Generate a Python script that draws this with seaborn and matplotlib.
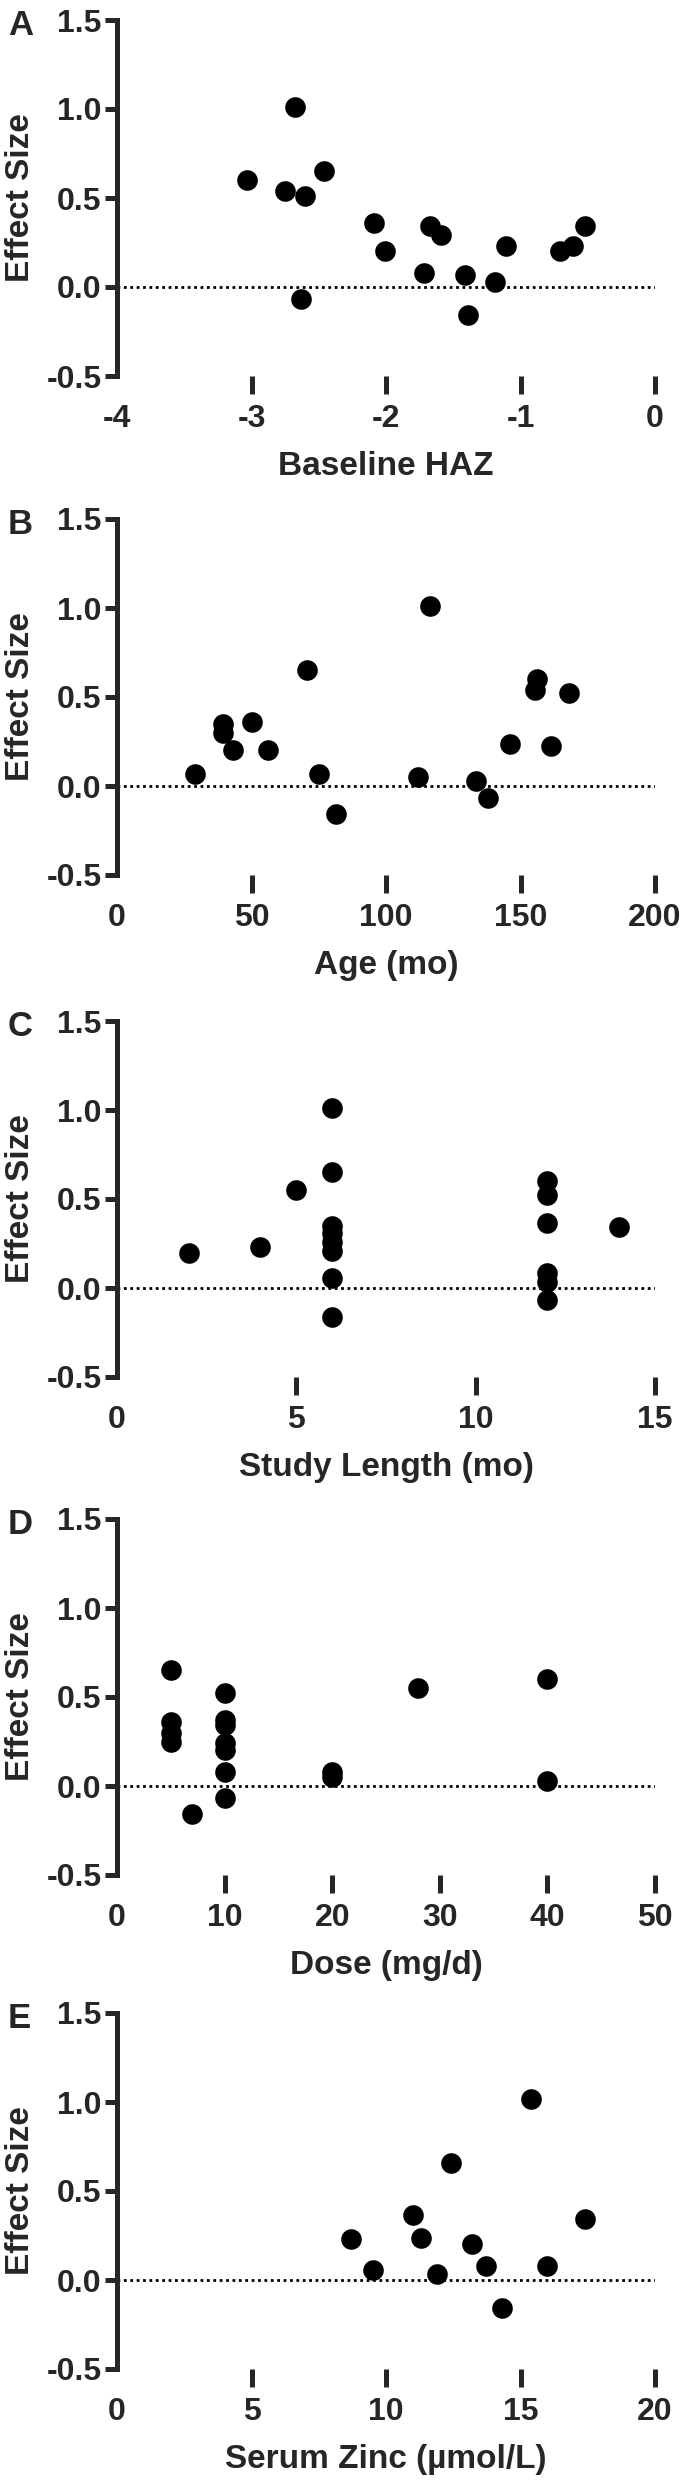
"""
Effect size vs. study characteristics (5 stacked scatter panels)
"""
import matplotlib
matplotlib.use("Agg")
import matplotlib.pyplot as plt
import seaborn as sns

# A - baseline HAZ
haz = [-3.03, -2.68, -2.75, -2.60, -2.46, -2.63, -2.09, -2.01, -1.67,
       -1.59, -1.72, -1.41, -1.39, -1.19, -1.11, -0.71, -0.61, -0.52]
haz_es = [0.60, 1.01, 0.54, 0.51, 0.65, -0.07, 0.36, 0.20, 0.34,
          0.29, 0.08, 0.07, -0.16, 0.03, 0.23, 0.20, 0.23, 0.34]

# B - age (mo)
age = [29, 39.5, 39.5, 43, 50, 56, 70.5, 75, 81.5,
       112, 116.5, 133.5, 138, 146, 156, 155.5, 161.5, 168]
age_es = [0.07, 0.35, 0.30, 0.20, 0.36, 0.20, 0.65, 0.07, -0.16,
          0.05, 1.01, 0.03, -0.07, 0.235, 0.60, 0.54, 0.225, 0.52]

# C - study length (mo)
length = [2, 4, 5, 6, 6, 6, 6, 6, 6, 6, 6, 12, 12, 12, 12, 12, 12, 14]
length_es = [0.195, 0.23, 0.55, 1.01, 0.65, 0.35, 0.31, 0.26, 0.21, 0.055,
             -0.165, 0.60, 0.52, 0.365, 0.085, 0.035, -0.07, 0.34]

# D - dose (mg/d)
dose = [5, 5, 5, 5, 7, 10, 10, 10, 10, 10, 10, 10, 20, 20, 28, 40, 40]
dose_es = [0.65, 0.36, 0.30, 0.25, -0.16, 0.52, 0.37, 0.34, 0.24, 0.20,
           0.08, -0.07, 0.08, 0.05, 0.55, 0.60, 0.03]

# E - serum zinc (umol/L)
zinc = [8.7, 9.5, 11.0, 11.3, 11.9, 12.4, 13.2, 13.7, 14.3, 15.4, 16.0, 17.4]
zinc_es = [0.23, 0.055, 0.365, 0.235, 0.035, 0.655, 0.20, 0.08, -0.157,
           1.015, 0.08, 0.345]

PANELS = ['A', 'B', 'C', 'D', 'E']
X_LABELS = ['Baseline HAZ', 'Age (mo)', 'Study Length (mo)', 'Dose (mg/d)',
            'Serum Zinc (µmol/L)']
X_TICKS = [[-4, -3, -2, -1, 0], [0, 50, 100, 150, 200], [0, 5, 10, 15],
           [0, 10, 20, 30, 40, 50], [0, 5, 10, 15, 20]]
Y_TICKS = [-0.5, 0.0, 0.5, 1.0, 1.5]
Y_TICKLABELS = ['-0.5', '0.0', '0.5', '1.0', '1.5']

sns.set_style("ticks")
plt.rcParams['font.family'] = ['Liberation Sans', 'DejaVu Sans']
plt.rcParams['font.weight'] = 'bold'
plt.rcParams['axes.unicode_minus'] = False

W, H = 690, 2484
fig = plt.figure(figsize=(W / 100, H / 100), dpi=100)

data = [(haz, haz_es), (age, age_es), (length, length_es),
        (dose, dose_es), (zinc, zinc_es)]
tops = [20, 519, 1021, 1519, 2013]
ax_h = 356
left, right = 117, 655

for i, (xs, ys) in enumerate(data):
    ax = fig.add_axes([left / W, 1 - (tops[i] + ax_h) / H,
                       (right - left) / W, ax_h / H])
    ax.axhline(0, color='black', lw=2, ls=(0, (1, 1.3)), zorder=1)
    sns.scatterplot(x=xs, y=ys, ax=ax, color='black', s=220,
                    linewidth=0, zorder=3, clip_on=False)

    ax.set_xlim(X_TICKS[i][0], X_TICKS[i][-1])
    ax.set_ylim(-0.5, 1.5)
    ax.set_xticks(X_TICKS[i])
    ax.set_xticklabels([str(t) for t in X_TICKS[i]])
    ax.set_yticks(Y_TICKS)
    ax.set_yticklabels(Y_TICKLABELS)

    for side in ['top', 'right', 'bottom']:
        ax.spines[side].set_visible(False)
    ax.spines['left'].set_linewidth(3.6)
    ax.spines['left'].set_capstyle('projecting')

    ax.tick_params(axis='y', direction='out', length=9, width=3.6,
                   labelsize=23, pad=2)
    ax.tick_params(axis='x', direction='out', length=13, width=3.6,
                   labelsize=23, pad=7)
    ax.xaxis.get_major_ticks()[0].tick1line.set_visible(False)

    ax.set_xlabel(X_LABELS[i], fontsize=24, fontweight='bold', va='top')
    ax.xaxis.set_label_coords(0.5, -0.21)
    ax.set_ylabel('Effect Size', fontsize=24, fontweight='bold')
    ax.yaxis.set_label_coords(-0.15, 0.5)

    ax.text(-0.203, 1.03, PANELS[i], transform=ax.transAxes, va='top',
            ha='left', fontsize=25, fontweight='bold')

fig.savefig('out.png', dpi=100)
